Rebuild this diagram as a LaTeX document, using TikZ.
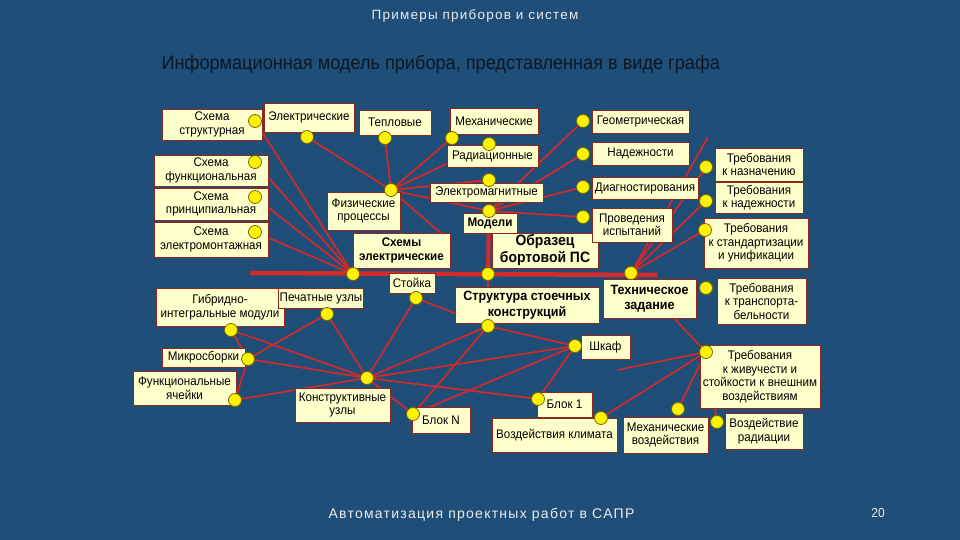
\documentclass[tikz,border=0pt]{standalone}
\usepackage{fontspec}
\setmainfont{Liberation Sans}[FakeStretch=0.93]
\newfontfamily\spacedfont{Liberation Sans}[LetterSpace=9]
\usetikzlibrary{backgrounds}
\definecolor{bgblue}{RGB}{31,78,121}
\definecolor{boxfill}{RGB}{255,255,204}
\definecolor{boxedge}{RGB}{140,40,30}
\definecolor{linkred}{RGB}{212,42,42}
\definecolor{dotfill}{RGB}{255,242,0}
\definecolor{dotedge}{RGB}{120,105,0}
\definecolor{subt}{RGB}{12,24,40}
\newcommand\fsn{\fontsize{12.5}{13.5}\selectfont}
\newcommand\fsb{\fontsize{12.5}{13.5}\selectfont\bfseries}
\newcommand\fsbb{\fontsize{13.5}{15.5}\selectfont\bfseries}
\newcommand\fsbbb{\fontsize{15}{17}\selectfont\bfseries}
\pgfdeclarelayer{lines}
\pgfdeclarelayer{back}
\pgfsetlayers{back,lines,main}
\begin{document}
\begin{tikzpicture}[x=1pt,y=-1pt,
  box/.style={draw=boxedge, line width=0.7pt, fill=boxfill, inner sep=1pt, align=center, text=black, font=\fsn},
  bbox/.style={box, font=\fsb},
  dot/.style={circle, draw=dotedge, fill=dotfill, line width=0.8pt, minimum size=13pt, inner sep=0pt},
  link/.style={draw=linkred, line width=1.7pt},
  spine/.style={draw=linkred, line width=4.5pt},
]
\begin{pgfonlayer}{back}
\fill[bgblue] (0,0) rectangle (960,540);
\end{pgfonlayer}
\useasboundingbox (0,0) rectangle (960,540);

% titles
\node[text=white!92!black, font=\spacedfont\fontsize{13.5}{15}\selectfont] (title) at (475,16) {Примеры приборов и систем};
\node[text=subt, font=\fontsize{19.5}{21}\selectfont, anchor=west] (subtitle) at (158,64) {Информационная модель прибора, представленная в виде графа};
\node[text=white!92!black, font=\spacedfont\fontsize{14}{16}\selectfont, anchor=west] (footer) at (325,515) {Автоматизация проектных работ в САПР};
\node[text=white!92!black, font=\fontsize{13}{15}\selectfont] (pnum) at (878,513) {20};

% boxes
\node[box, minimum width=100pt, minimum height=31pt] (sstr) at (212,124.5) {Схема\\структурная};
\node[box, minimum width=90pt, minimum height=29pt] (elec) at (309,117.5) {Электрические};
\node[box, minimum width=114pt, minimum height=31pt] (sfun) at (211,170.5) {Схема\\функциональная};
\node[box, minimum width=114pt, minimum height=32pt] (sprin) at (211,204) {Схема\\принципиальная};
\node[box, minimum width=114pt, minimum height=35pt] (smont) at (211,239.5) {Схема\\электромонтажная};
\node[box, minimum width=72pt, minimum height=25pt] (tepl) at (395,122.5) {Тепловые};
\node[box, minimum width=88pt, minimum height=26pt] (mech) at (494,121) {Механические};
\node[box, minimum width=91pt, minimum height=22pt] (rad) at (492.5,156) {Радиационные};
\node[box, minimum width=73pt, minimum height=38pt] (fiz) at (363.5,211) {Физические\\процессы};
\node[box, minimum width=113pt, minimum height=19pt] (emag) at (486.5,192.5) {Электромагнитные};
\node[bbox, minimum width=54pt, minimum height=20pt] (model) at (490,223) {Модели};
\node[bbox, minimum width=97pt, minimum height=35pt] (schel) at (401.5,250.5) {Схемы\\электрические};
\node[box, font=\fsbbb, minimum width=106pt, minimum height=35pt] (obr) at (545,250.5) {Образец\\бортовой ПС};
\node[box, minimum width=97pt, minimum height=23pt] (geom) at (640.5,121.5) {Геометрическая};
\node[box, minimum width=97pt, minimum height=23pt] (nadezh) at (640.5,153.5) {Надежности};
\node[box, minimum width=106pt, minimum height=22pt] (diag) at (645,188) {Диагностирования};
\node[box, minimum width=80pt, minimum height=34pt] (isp) at (632,225) {Проведения\\испытаний};
\node[box, minimum width=88pt, minimum height=33pt] (tnaz) at (759,164.5) {Требования\\к назначению};
\node[box, minimum width=88pt, minimum height=31pt] (tnad) at (759,197.5) {Требования\\к надежности};
\node[box, minimum width=104pt, minimum height=50pt] (tstd) at (756,243) {Требования\\к стандартизации\\и унификации};
\node[box, font=\fsbb, minimum width=93pt, minimum height=39pt] (tz) at (649.5,298.5) {Техническое\\задание};
\node[box, minimum width=89pt, minimum height=46pt] (ttr) at (761.5,301) {Требования\\к транспорта-\\бельности};
\node[box, minimum width=46pt, minimum height=20pt] (stoika) at (412,283) {Стойка};
\node[box, font=\fsbb, minimum width=144pt, minimum height=36pt] (struct) at (527,305) {Структура стоечных\\конструкций};
\node[box, minimum width=128pt, minimum height=38pt] (gib) at (220,307) {Гибридно-\\интегральные модули};
\node[box, minimum width=68pt, minimum height=20pt] (pech) at (321,298.5) {Печатные узлы};
\node[box, minimum width=83pt, minimum height=19pt] (mikro) at (203.5,357.5) {Микросборки};
\node[box, minimum width=103pt, minimum height=34pt] (fyach) at (184.5,388) {Функциональные\\ячейки};
\node[box, minimum width=95pt, minimum height=34pt] (kuz) at (342.5,405) {Конструктивные\\узлы};
\node[box, minimum width=49pt, minimum height=24pt] (shkaf) at (605.5,347) {Шкаф};
\node[box, minimum width=58pt, minimum height=26pt] (blokN) at (441,420) {Блок N};
\node[box, minimum width=55pt, minimum height=25pt] (blok1) at (564.5,404.5) {Блок 1};
\node[box, minimum width=125pt, minimum height=34pt] (klim) at (554.5,435) {Воздействия климата};
\node[box, minimum width=120pt, minimum height=63pt] (tziv) at (760,376.5) {Требования\\к живучести и\\стойкости к внешним\\воздействиям};
\node[box, minimum width=85pt, minimum height=36pt] (mvoz) at (665.5,435) {Механические\\воздействия};
\node[box, minimum width=78pt, minimum height=36pt] (vrad) at (764,431) {Воздействие\\радиации};

% dots
\node[dot] (dsstr) at (255,121) {};
\node[dot] (delec) at (307,137) {};
\node[dot] (dsfun) at (255,162) {};
\node[dot] (dsprin) at (255,197) {};
\node[dot] (dsmont) at (255,232) {};
\node[dot] (dtepl) at (385,138) {};
\node[dot] (dmech) at (452,138) {};
\node[dot] (drad) at (489,144) {};
\node[dot] (dfiz) at (391,190) {};
\node[dot] (demag) at (489,180) {};
\node[dot] (dmodel) at (489,211) {};
\node[dot] (dschel) at (353,274) {};
\node[dot] (dobr) at (488,274) {};
\node[dot] (dgeom) at (583,121) {};
\node[dot] (dnad) at (583,154) {};
\node[dot] (ddiag) at (583,187) {};
\node[dot] (disp) at (583,217) {};
\node[dot] (dtnaz) at (706,167) {};
\node[dot] (dtnad) at (706,201) {};
\node[dot] (dtstd) at (705,230) {};
\node[dot] (dtz) at (631,273) {};
\node[dot] (dttr) at (706,288) {};
\node[dot] (dstoika) at (416,298) {};
\node[dot] (dstruct) at (488,326) {};
\node[dot] (dgib) at (231,330) {};
\node[dot] (dpech) at (327,314) {};
\node[dot] (dmikro) at (248,359) {};
\node[dot] (dfyach) at (235,400) {};
\node[dot] (dkuz) at (367,378) {};
\node[dot] (dshkaf) at (575,346) {};
\node[dot] (dblokN) at (413,414) {};
\node[dot] (dblok1) at (538,399) {};
\node[dot] (dklim) at (601,418) {};
\node[dot] (dtziv) at (706,352) {};
\node[dot] (dmvoz) at (678,409) {};
\node[dot] (dvrad) at (717,422) {};

\coordinate (spL) at (250,273);
\coordinate (spR) at (657,275);
\coordinate (freeA) at (708,137);
\coordinate (freeB) at (617,370);

\begin{pgfonlayer}{lines}
\draw[spine] (spL) -- (spR);
\draw[spine, line width=4pt] (dmodel.center) -- (dobr.center);
\draw[link] (dschel.center) -- (dsstr.center);
\draw[link] (dschel.center) -- (dsfun.center);
\draw[link] (dschel.center) -- (dsprin.center);
\draw[link] (dschel.center) -- (dsmont.center);
\draw[link] (dfiz.center) -- (delec.center);
\draw[link] (dfiz.center) -- (dtepl.center);
\draw[link] (dfiz.center) -- (dmech.center);
\draw[link] (dfiz.center) -- (drad.center);
\draw[link] (dfiz.center) -- (demag.center);
\draw[link] (dfiz.center) -- (dmodel.center);
\draw[link] (dfiz.center) -- ([xshift=-3pt,yshift=-6pt]schel.north east);
\draw[link] (dmodel.center) -- (dgeom.center);
\draw[link] (dmodel.center) -- (dnad.center);
\draw[link] (dmodel.center) -- (ddiag.center);
\draw[link] (dmodel.center) -- (disp.center);
\draw[link] (dtz.center) -- (freeA);
\draw[link] (dtz.center) -- (dtnaz.center);
\draw[link] (dtz.center) -- (dtnad.center);
\draw[link] (dtz.center) -- (dtstd.center);
\draw[link] (dtz.center) -- (dtziv.center);
\draw[link] (dtziv.center) -- (freeB);
\draw[link] (dtziv.center) -- (dklim.center);
\draw[link] (dtziv.center) -- (dmvoz.center);
\draw[link] (dtziv.center) -- (dvrad.center);
\draw[link] (dobr.center) -- (dstruct.center);
\draw[link] (dstruct.center) -- (dshkaf.center);
\draw[link] (dstruct.center) -- (dkuz.center);
\draw[link] (dstruct.center) -- (dblokN.center);
\draw[link] (dstruct.center) -- (dstoika.center);
\draw[link] (dshkaf.center) -- (dkuz.center);
\draw[link] (dshkaf.center) -- (dblokN.center);
\draw[link] (dshkaf.center) -- (dblok1.center);
\draw[link] (dkuz.center) -- (dpech.center);
\draw[link] (dkuz.center) -- (dstoika.center);
\draw[link] (dkuz.center) -- (dgib.center);
\draw[link] (dkuz.center) -- (dmikro.center);
\draw[link] (dkuz.center) -- (dfyach.center);
\draw[link] (dkuz.center) -- (dblokN.center);
\draw[link] (dkuz.center) -- (dblok1.center);
\draw[link] (dpech.center) -- (dmikro.center);
\draw[link] (dgib.center) -- (dmikro.center);
\draw[link] (dmikro.center) -- (dfyach.center);
\end{pgfonlayer}
\end{tikzpicture}
\end{document}
